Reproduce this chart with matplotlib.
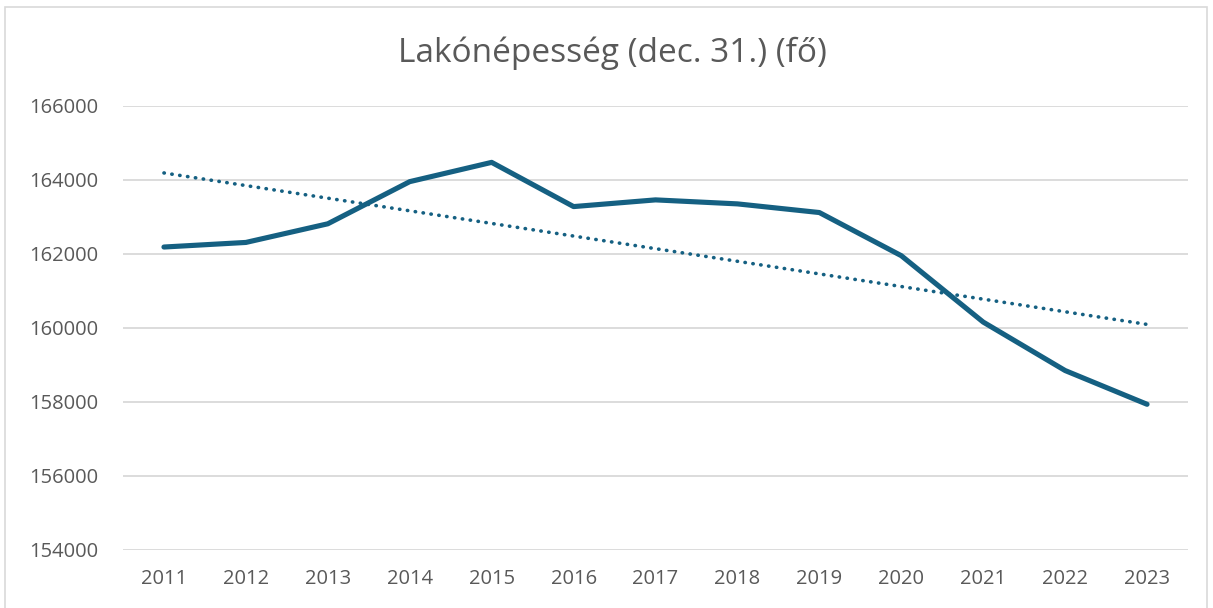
import matplotlib
matplotlib.use("Agg")
import matplotlib.pyplot as plt
import numpy as np
from matplotlib.patches import Rectangle

# Lakónépesség december 31-én (fő)
years = [2011, 2012, 2013, 2014, 2015, 2016, 2017, 2018, 2019, 2020, 2021, 2022, 2023]
population = [162188, 162312, 162816, 163955, 164476, 163281, 163462,
              163354, 163120, 161954, 160160, 158850, 157938]
y_ticks = [154000, 156000, 158000, 160000, 162000, 164000, 166000]

line_color = "#156082"
text_color = "#595959"
grid_color = "#d9d9d9"

plt.rcParams['font.family'] = ['Open Sans', 'DejaVu Sans']

fig = plt.figure(figsize=(12.13, 6.08), dpi=100)
ax = fig.add_axes([0.1014, 0.0954, 0.878, 0.7303])

x = np.arange(len(years))
ax.plot(x, population, color=line_color, linewidth=3.7, solid_capstyle="round",
        solid_joinstyle="round", zorder=3)

# lineáris trendvonal
slope, intercept = np.polyfit(x, population, 1)
ax.plot(x, slope * x + intercept, color=line_color, linewidth=2.6,
        linestyle=(0, (0.1, 2.1)), dash_capstyle="round", zorder=2)

ax.set_xlim(-0.5, len(years) - 0.5)
ax.set_ylim(154000, 166000)
ax.set_yticks(y_ticks)
ax.set_yticklabels([str(v) for v in y_ticks])
ax.set_xticks(x)
ax.set_xticklabels([str(y) for y in years])
ax.tick_params(length=0, labelsize=14.5, colors=text_color)
ax.tick_params(axis="x", pad=14)
ax.tick_params(axis="y", pad=18)
ax.grid(axis="y", color=grid_color, linewidth=1.3)
ax.set_axisbelow(True)
for s in ax.spines.values():
    s.set_visible(False)

fig.text(0.5045, 0.912, "Lakónépesség (dec. 31.) (fő)", ha="center", va="center",
         fontsize=24, color=text_color)

# keret a diagram körül
fig.patches.append(Rectangle((5 / 1213, -0.01), 1202 / 1213, 1 - 7 / 608 + 0.01,
                             transform=fig.transFigure, fill=False,
                             edgecolor="#d9d9d9", linewidth=1.2))

fig.savefig("out.png", dpi=100)
